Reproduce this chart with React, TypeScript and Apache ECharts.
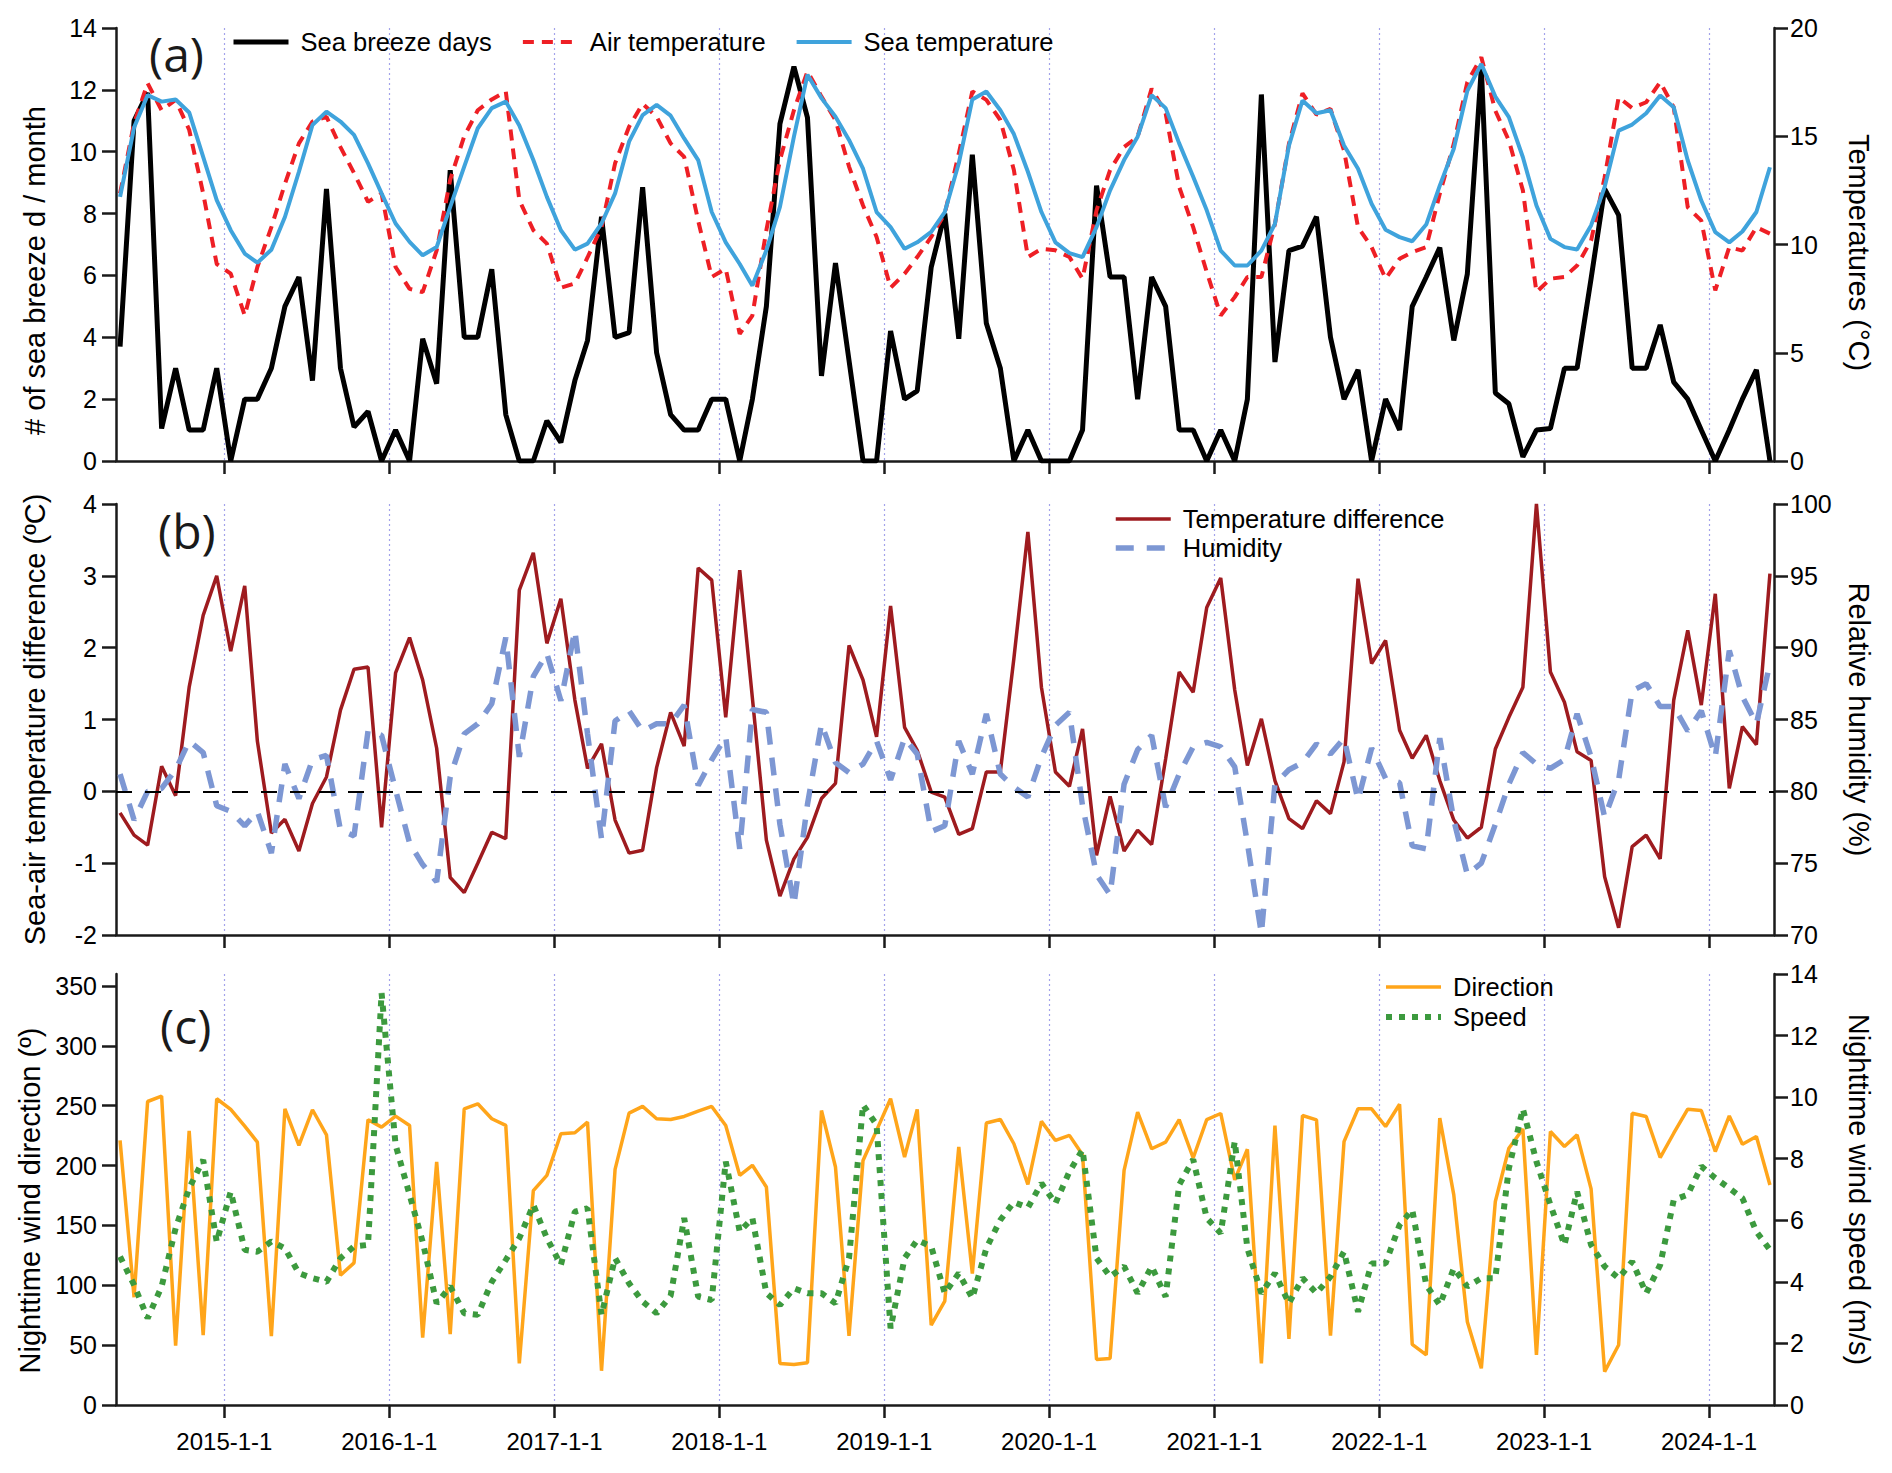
import { useEffect, useRef } from "react";
import * as echarts from "echarts";

const FONT = "'Liberation Sans', Arial, Helvetica, sans-serif";

// monthly points, 15th of each month, 2014-05 .. 2024-05
const FIRST_MONTH = [2014, 4];
const N_MONTHS = 121;
const monthTs: number[] = Array.from({ length: N_MONTHS }, (_, i) =>
  Date.UTC(FIRST_MONTH[0], FIRST_MONTH[1] + i, 15)
);

const xTickLabels = [
  "2015-1-1", "2016-1-1", "2017-1-1", "2018-1-1", "2019-1-1",
  "2020-1-1", "2021-1-1", "2022-1-1", "2023-1-1", "2024-1-1",
];
const xTicks = xTickLabels.map((s) => {
  const [y, m, d] = s.split("-").map(Number);
  return Date.UTC(y, m - 1, d);
});
const X_MIN = Date.UTC(2014, 4, 6);
const X_MAX = Date.UTC(2024, 4, 24);

// (a) sea breeze days per month
const seaBreezeDays = [
  3.7, 11.0, 11.9, 1.05, 3.0, 1.0, 1.0, 3.0, 0, 2.0,
  2.0, 3.0, 5.0, 5.95, 2.6, 8.8, 3.0, 1.1, 1.6, 0,
  1.0, 0, 3.95, 2.5, 9.4, 4.0, 4.0, 6.2, 1.5, 0,
  0, 1.3, 0.6, 2.6, 3.9, 7.9, 4.0, 4.15, 8.85, 3.5,
  1.5, 1.0, 1.0, 2.0, 2.0, 0, 2.0, 5.0, 10.9, 12.75,
  11.1, 2.75, 6.4, 3.25, 0, 0, 4.2, 2.0, 2.27, 6.27,
  8.0, 3.95, 9.9, 4.45, 3.0, 0, 1.0, 0, 0, 0,
  1.0, 8.9, 5.95, 5.95, 2.0, 5.95, 5.0, 1.0, 1.0, 0,
  1.0, 0, 2.0, 11.85, 3.2, 6.8, 6.95, 7.9, 4.0, 2.0,
  2.95, 0, 2.0, 1.0, 5.0, 5.95, 6.9, 3.9, 6.05, 12.7,
  2.2, 1.85, 0.13, 1.0, 1.05, 3.0, 3.0, 5.9, 8.8, 7.95,
  3.0, 3.0, 4.4, 2.55, 2.0, 1.0, 0, 1.0, 2.0, 2.95,
  0,
];

// (a) air temperature, °C
const airTemp = [
  12.36, 15.6, 17.45, 16.2, 16.68, 15.3, 12.36, 9.1, 8.65, 6.72,
  8.96, 10.8, 12.8, 14.67, 15.68, 15.9, 14.5, 13.3, 11.97, 12.36,
  8.96, 7.95, 7.8, 9.73, 13.0, 15.0, 16.2, 16.7, 17.07, 12.05,
  10.66, 10.04, 8.0, 8.2, 9.4, 10.8, 13.75, 15.44, 16.5, 15.9,
  14.67, 14.05, 11.1, 8.5, 8.88, 5.87, 6.72, 10.66, 13.9, 16.2,
  18.0, 16.83, 15.75, 13.6, 11.8, 10.35, 8.0, 8.65, 9.42, 10.35,
  11.43, 14.2, 17.07, 16.68, 15.75, 13.44, 9.42, 9.8, 9.73, 9.42,
  8.42, 11.58, 13.44, 14.5, 14.98, 17.2, 16.06, 12.66, 10.8, 8.73,
  6.72, 7.57, 8.5, 8.5, 10.95, 14.65, 16.98, 16.0, 16.26, 14.34,
  10.8, 9.88, 8.42, 9.34, 9.65, 9.88, 12.34, 14.65, 17.5, 18.65,
  16.18, 14.8, 12.5, 7.8, 8.42, 8.5, 9.03, 10.18, 13.1, 16.8,
  16.3, 16.57, 17.5, 16.34, 11.72, 11.1, 7.88, 9.88, 9.72, 10.8,
  10.5,
];

// (a) sea temperature, °C
const seaTemp = [
  12.2, 15.4, 16.9, 16.6, 16.7, 16.1, 14.05, 12.05, 10.66, 9.58,
  9.16, 9.76, 11.27, 13.36, 15.52, 16.14, 15.68, 15.06, 13.75, 12.36,
  10.97, 10.12, 9.5, 9.88, 11.74, 13.6, 15.37, 16.3, 16.6, 15.5,
  13.9, 12.2, 10.66, 9.76, 10.04, 10.97, 12.36, 14.75, 15.98, 16.45,
  15.95, 14.9, 13.9, 11.5, 10.1, 9.1, 8.1, 9.73, 11.74, 14.98,
  17.84, 16.76, 15.9, 14.83, 13.5, 11.5, 10.8, 9.8, 10.1, 10.58,
  11.5, 13.75, 16.7, 17.07, 16.2, 15.1, 13.36, 11.5, 10.1, 9.6,
  9.42, 10.8, 12.5, 13.9, 14.98, 16.9, 16.3, 14.67, 13.13, 11.58,
  9.72, 9.03, 9.03, 9.72, 10.95, 14.57, 16.65, 16.06, 16.2, 14.57,
  13.5, 11.88, 10.68, 10.34, 10.15, 10.92, 12.72, 14.42, 17.1, 18.34,
  16.83, 15.88, 14.03, 11.8, 10.26, 9.88, 9.77, 10.88, 12.65, 15.26,
  15.54, 16.06, 16.88, 16.34, 13.88, 12.03, 10.57, 10.1, 10.6, 11.5,
  13.57,
];

// (b) sea-air temperature difference, °C
const tempDiff = [
  -0.3, -0.61, -0.75, 0.35, -0.06, 1.45, 2.45, 3.0, 1.95, 2.86,
  0.7, -0.58, -0.39, -0.83, -0.17, 0.2, 1.13, 1.7, 1.73, -0.5,
  1.65, 2.14, 1.55, 0.6, -1.2, -1.41, -1.0, -0.57, -0.66, 2.8,
  3.32, 2.06, 2.68, 1.27, 0.32, 0.66, -0.4, -0.86, -0.82, 0.33,
  1.1, 0.63, 3.11, 2.94, 1.03, 3.08, 1.3, -0.68, -1.46, -0.94,
  -0.64, -0.1, 0.11, 2.03, 1.55, 0.76, 2.58, 0.89, 0.57, -0.01,
  -0.08, -0.6, -0.52, 0.27, 0.27, 1.85, 3.61, 1.45, 0.27, 0.07,
  0.87, -0.89, -0.07, -0.83, -0.54, -0.74, 0.45, 1.66, 1.38, 2.56,
  2.97, 1.41, 0.36, 1.01, 0.15, -0.38, -0.52, -0.13, -0.31, 0.41,
  2.96, 1.78, 2.1, 0.85, 0.46, 0.78, 0.15, -0.4, -0.65, -0.5,
  0.59, 1.03, 1.45, 4.0, 1.66, 1.24, 0.55, 0.43, -1.19, -1.9,
  -0.77, -0.61, -0.94, 1.27, 2.24, 1.2, 2.75, 0.04, 0.9, 0.65,
  3.03,
];

// (b) relative humidity, %
const humidity = [
  81.2, 78.0, 80.0, 80.2, 81.5, 83.5, 82.7, 79.0, 78.6, 77.6,
  78.6, 75.7, 81.9, 79.5, 82.2, 82.5, 77.3, 76.9, 84.2, 83.9,
  80.1, 76.4, 74.9, 73.7, 81.0, 84.0, 84.7, 86.1, 90.7, 82.4,
  88.0, 89.6, 86.3, 91.2, 84.0, 76.7, 84.9, 85.6, 84.2, 84.7,
  84.7, 86.0, 80.4, 82.2, 83.8, 76.0, 85.7, 85.5, 77.7, 72.1,
  79.1, 84.7, 82.0, 81.3, 81.9, 83.5, 80.8, 83.7, 82.6, 77.2,
  77.6, 83.5, 81.2, 85.4, 81.2, 80.3, 79.6, 82.4, 84.6, 85.5,
  79.0, 74.2, 72.8, 80.5, 82.9, 83.9, 78.9, 81.2, 83.1, 83.4,
  83.1, 81.7, 76.4, 70.1, 80.5, 81.5, 82.0, 83.3, 82.6, 83.7,
  79.4, 83.0, 80.9, 80.6, 76.2, 76.0, 83.7, 78.0, 74.2, 75.0,
  77.7, 80.5, 82.7, 81.9, 81.6, 82.2, 85.4, 82.4, 78.2, 80.8,
  87.0, 87.5, 85.9, 85.9, 84.2, 85.6, 82.4, 89.8, 86.6, 84.7,
  88.9,
];

// (c) nighttime wind direction, degrees
const windDir = [
  221, 90, 253.5, 258, 49.5, 229, 58.4, 255.8, 246.9, 233,
  219.6, 57.5, 247.4, 216.8, 246.6, 225.7, 108.4, 118.7, 238.3, 232.1,
  241.3, 233.5, 56.2, 203, 59.2, 247.4, 251.6, 239.1, 233.5, 34.75,
  179, 191.8, 226.6, 227.4, 236.3, 28.6, 196.8, 243.8, 249.4, 239.1,
  238.5, 241, 245.5, 249.4, 233.5, 191.8, 200.2, 182.1, 34.75, 33.9,
  35.3, 246, 198.8, 57.8, 204.3, 229.4, 255.8, 207.1, 246.9, 66.7,
  86.7, 215.5, 109.8, 235.5, 238.5, 218.2, 184.3, 236.9, 221, 225.2,
  209.1, 38.1, 38.9, 196, 244.6, 214, 219.6, 238.3, 206.3, 238.3,
  243.5, 188, 213.6, 34.8, 233.4, 55.2, 241.8, 238.2, 57.9, 220,
  247.4, 247.4, 232.6, 251.2, 50.7, 41.8, 239.6, 175.5, 69.6, 30.6,
  170, 214.5, 230.6, 41.8, 228.4, 215.9, 225.6, 180.5, 27.9, 50.1,
  243.7, 241, 206.7, 227, 247.1, 246, 211.7, 241.5, 217.8, 224.2,
  183.8,
];

// (c) nighttime wind speed, m/s
const windSpeed = [
  4.82, 3.9, 2.82, 3.85, 5.74, 7.04, 7.96, 5.3, 6.93, 5.04,
  4.98, 5.31, 5.09, 4.28, 4.12, 4.0, 4.77, 5.15, 5.2, 13.38,
  8.45, 6.83, 5.3, 3.3, 3.85, 2.98, 2.93, 4.0, 4.71, 5.42,
  6.5, 5.42, 4.55, 6.28, 6.39, 2.93, 4.77, 3.95, 3.36, 2.98,
  3.55, 6.07, 3.52, 3.41, 7.91, 5.63, 6.07, 3.63, 3.25, 3.79,
  3.63, 3.63, 3.3, 4.77, 9.75, 9.1, 2.49, 4.77, 5.36, 5.15,
  3.63, 4.28, 3.47, 5.09, 6.01, 6.59, 6.41, 7.2, 6.55, 7.58,
  8.29, 4.77, 4.17, 4.5, 3.63, 4.5, 3.52, 7.15, 7.98, 6.07,
  5.58, 8.56, 5.09, 3.63, 4.28, 3.3, 4.12, 3.63, 4.17, 4.98,
  3.03, 4.6, 4.6, 5.85, 6.34, 3.9, 3.25, 4.44, 3.85, 4.12,
  4.12, 7.69, 9.62, 7.91, 6.5, 5.2, 6.93, 5.2, 4.5, 4.12,
  4.66, 3.63, 4.55, 6.66, 6.83, 7.75, 7.37, 7.04, 6.72, 5.63,
  5.04,
];

const dirTicks = [0, 50, 100, 150, 200, 250, 300, 350];

const AXIS_COLOR = "#1a1a1a";

const pairs = (vals: number[]) => vals.map((v, i) => [monthTs[i], v]);

const fmtDate = (v: number) => {
  const d = new Date(v);
  return `${d.getUTCFullYear()}-${d.getUTCMonth() + 1}-${d.getUTCDate()}`;
};

function xAxis(gridIndex: number): any {
  return {
    type: "value",
    gridIndex,
    min: X_MIN,
    max: X_MAX,
    axisLine: { show: true, onZero: false, lineStyle: { color: AXIS_COLOR, width: 2.5 } },
    axisTick: {
      show: true,
      customValues: xTicks,
      length: 13,
      lineStyle: { color: AXIS_COLOR, width: 2.5 },
    },
    axisLabel: {
      show: gridIndex === 2,
      customValues: xTicks,
      formatter: (v: number) => fmtDate(v),
      fontSize: 24,
      fontFamily: FONT,
      color: "#000",
      margin: 24,
    },
    splitLine: {
      show: true,
      lineStyle: { color: "#a3a3ea", width: 1.2, type: [2, 3] },
    },
  };
}

function yAxis(
  gridIndex: number,
  position: "left" | "right",
  min: number,
  max: number,
  interval: number | undefined,
  name: string,
  namePadding: number[],
  custom?: number[]
): any {
  const left = position === "left";
  const ax: any = {
    type: "value",
    gridIndex,
    position,
    min,
    max,
    name,
    nameLocation: "middle",
    nameGap: left ? 67 : 70,
    nameRotate: left ? 90 : -90,
    nameTextStyle: {
      fontSize: 29,
      fontFamily: FONT,
      color: "#000",
      padding: namePadding,
    },
    axisLine: { show: true, lineStyle: { color: AXIS_COLOR, width: 2.5 } },
    axisTick: {
      show: true,
      length: 14,
      lineStyle: { color: AXIS_COLOR, width: 2.5 },
    },
    axisLabel: {
      fontSize: 25,
      fontFamily: FONT,
      color: "#000",
      margin: left ? 19 : 16,
    },
    splitLine: { show: false },
  };
  if (interval !== undefined) ax.interval = interval;
  if (custom) {
    ax.axisTick.customValues = custom;
    ax.axisLabel.customValues = custom;
  }
  return ax;
}

function legend(
  data: string[],
  left: number,
  top: number,
  orient: "horizontal" | "vertical",
  itemGap: number
): any {
  return {
    data,
    left,
    top,
    orient,
    itemGap,
    itemWidth: 55,
    itemHeight: 26,
    padding: 0,
    selectedMode: false,
    // line series always add a marker in the legend; hide it, keep the line
    itemStyle: { color: "transparent", borderWidth: 0, opacity: 0 },
    lineStyle: { width: "inherit" },
    textStyle: {
      fontSize: 25.5,
      fontFamily: FONT,
      color: "#000",
      padding: [0, 0, 0, 7],
    },
  };
}

function line(
  name: string,
  gridIndex: number,
  yAxisIndex: number,
  vals: number[],
  color: string,
  width: number,
  type: any = "solid",
  extra: any = {}
): any {
  return {
    name,
    type: "line",
    xAxisIndex: gridIndex,
    yAxisIndex,
    data: pairs(vals),
    symbol: "none",
    color,
    lineStyle: { color, width, type },
    emphasis: { disabled: true },
    silent: true,
    ...extra,
  };
}

const panelLabel = (text: string, x: number, y: number) => ({
  type: "text",
  x,
  y,
  silent: true,
  style: {
    text,
    fontSize: 48,
    fontFamily: "'Open Sans', 'Noto Sans', sans-serif",
    fill: "#1a1a1a",
    verticalAlign: "middle",
  },
});

export default function App() {
  const ref = useRef<HTMLDivElement | null>(null);

  useEffect(() => {
    if (!ref.current) return;
    const chart = echarts.init(ref.current, undefined, { renderer: "svg" });

    const option: any = {
      animation: false,
      backgroundColor: "#fff",
      grid: [
        { left: 116, right: 118, top: 28, height: 433 },
        { left: 116, right: 118, top: 504, height: 431 },
        { left: 116, right: 118, top: 974, height: 431 },
      ],
      xAxis: [xAxis(0), xAxis(1), xAxis(2)],
      yAxis: [
        yAxis(0, "left", 0, 14, 2, "# of sea breeze d / month", [0, 52, 0, 0]),
        yAxis(0, "right", 0, 20, 5, "Temperatures (°C)", [0, 0, 0, 16]),
        yAxis(1, "left", -2, 4, 1, "Sea-air temperature difference (ºC)", [0, 0, 0, 0]),
        yAxis(1, "right", 70, 100, 5, "Relative humidity (%)", [0, 0, 0, 0]),
        yAxis(2, "left", 0, 360, undefined, "Nighttime wind direction (º)", [0, 22, 0, 0], dirTicks),
        yAxis(2, "right", 0, 14, 2, "Nighttime wind speed (m/s)", [0, 0, 0, 0]),
      ],
      legend: [
        legend(["Sea breeze days", "Air temperature", "Sea temperature"], 231, 29, "horizontal", 29),
        legend(["Temperature difference", "Humidity"], 1113, 506, "vertical", 3),
        legend(["Direction", "Speed"], 1383, 974, "vertical", 4),
      ],
      graphic: [
        panelLabel("(a)", 149, 53),
        panelLabel("(b)", 158, 530),
        panelLabel("(c)", 160, 1025),
      ],
      series: [
        line("Sea breeze days", 0, 0, seaBreezeDays, "#000000", 5),
        line("Air temperature", 0, 1, airTemp, "#ee1f25", 4, [11, 8]),
        line("Sea temperature", 0, 1, seaTemp, "#3fa3dc", 4),
        line("Temperature difference", 1, 2, tempDiff, "#9e1b1f", 3.5, "solid", {
          markLine: {
            silent: true,
            symbol: ["none", "none"],
            label: { show: false },
            lineStyle: { color: "#000", width: 2, type: [16, 13] },
            data: [{ yAxis: 0 }],
          },
        }),
        line("Humidity", 1, 3, humidity, "#7d97d3", 5.5, [18, 13]),
        line("Direction", 2, 4, windDir, "#ffa51a", 3.5),
        line("Speed", 2, 5, windSpeed, "#3c9a3e", 6, [6, 7]),
      ],
    };

    chart.setOption(option);
    return () => chart.dispose();
  }, []);

  return (
    <div
      ref={ref}
      style={{ position: "absolute", left: 0, top: 0, width: 1892, height: 1473, background: "#fff" }}
    />
  );
}
